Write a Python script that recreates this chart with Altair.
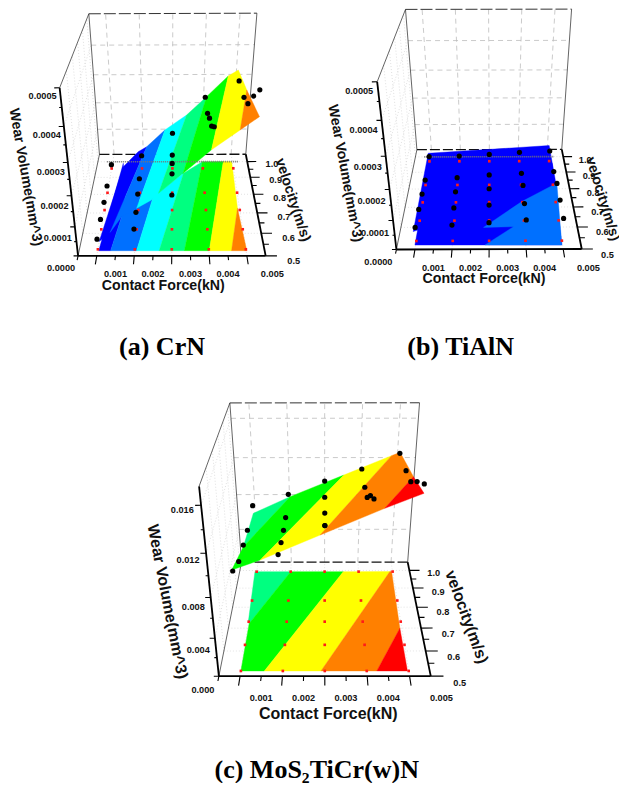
import numpy as np
import pandas as pd
import altair as alt

# ---------- values ----------
# Forces are in units of 1e-5 kN, velocities in 1e-3 m/s, wear in WEAR_UNIT mm^3.
FORCE_COLUMNS = [50, 150, 250, 350, 450]

A_VELOCITY_ROWS = [528, 619, 715, 809, 956]
B_VELOCITY_ROWS = [537, 632, 726, 823, 970]
C_VELOCITY_ROWS = [520, 626, 730, 834, 993]

# wear[column][row]
A_WEAR = [[36,36,29,26,15],[71,61,59,53,50],[183,191,166,139,135],[384,338,312,280,263],[481,423,356,331,318]]
B_WEAR = [[48,41,31,19,19],[56,46,39,28,21],[64,56,50,38,27],[73,61,62,44,35],[78,73,69,50,40]]
C_WEAR = [[1001,871,828,785,771],[1148,1051,974,916,894],[1398,1208,1141,1121,1036],[1617,1473,1288,1219,1162],[1736,1592,1432,1378,1322]]

BLUE, AZURE, CYAN, SPRING, GREEN, YELLOW, ORANGE, RED = "#0000ff", "#0070ff", "#00ffff", "#00ff80", "#00ff00", "#ffff00", "#ff8000", "#ff0000"

A_FLOOR = [
 (BLUE,[[53,522],[85,522],[109,733],[86,990]]),
 (AZURE,[[85,522],[155,522],[192,787],[109,733]]),
 (CYAN,[[155,522],[216,522],[286,925],[192,787]]),
 (SPRING,[[216,522],[284,522],[350,1000],[286,925]]),
 (GREEN,[[284,522],[351,522],[420,1000],[350,1000]]),
 (YELLOW,[[351,522],[411,522],[444,724],[448,1000],[420,1000]]),
 (ORANGE,[[411,522],[452,522],[444,724]]),
]
A_SURFACE = [
 (BLUE,[[55,530,26],[99,850,72],[139,960,63],[167,960,82],[86,530,58]]),
 (AZURE,[[167,960,82],[226,960,145],[159,530,139],[119,530,111],[86,530,58]]),
 (CYAN,[[226,960,145],[294,960,199],[216,530,187],[198,530,166],[159,530,139]]),
 (SPRING,[[294,960,199],[354,960,263],[278,530,249],[216,530,187]]),
 (GREEN,[[354,960,263],[417,960,333],[346,530,318],[278,530,249]]),
 (YELLOW,[[417,960,333],[446,960,352],[455,800,358],[412,530,374],[346,530,318]]),
 (ORANGE,[[455,800,358],[455,530,410],[412,530,374]]),
]
B_FLOOR = [(BLUE,[[48,519],[448,518],[459,955],[51,957]])]
B_SURFACE = [(BLUE,[[45,530,39],[49,960,38],[446,960,67],[456,800,21]])]
B_FLOOR_TOP = [(AZURE,[[239,519],[448,518],[463,831],[440,812],[348,729],[234,599],[319,602]])]
C_FLOOR = [
 (SPRING,[[45,993],[150,993],[52,722],[49,727]]),
 (GREEN,[[52,722],[150,993],[305,993],[106,520],[50,520]]),
 (YELLOW,[[305,993],[442,993],[241,520],[106,520]]),
 (ORANGE,[[442,993],[447,993],[445,699],[374,520],[241,520]]),
 (RED,[[445,699],[447,520],[374,520]]),
]
C_SURFACE = [
 (SPRING,[[51,990,691],[155,990,874],[41,800,676]]),
 (GREEN,[[41,800,676],[155,990,874],[302,990,1104],[111,520,1100],[48,520,1010]]),
 (YELLOW,[[302,990,1104],[428,990,1303],[240,520,1318],[111,520,1100]]),
 (ORANGE,[[428,990,1303],[450,990,1336],[458,750,1447],[373,520,1541],[240,520,1318]]),
 (RED,[[458,750,1447],[451,520,1662],[373,520,1541]]),
]

FORCE_LABELS = ["0.001", "0.002", "0.003", "0.004", "0.005"]
VELOCITY_LABELS = ["0.5", "0.6", "0.7", "0.8", "0.9", "1.0"]
AB_WEAR_LABELS = ["0.0000", "0.0001", "0.0002", "0.0003", "0.0004", "0.0005"]
C_WEAR_LABELS = ["0.000", "0.004", "0.008", "0.012", "0.016"]
CAPTIONS = ["(a) CrN", "(b) TiAlN", "(c) MoS\u2082TiCr(w)N"]

# ---------- layout: the view of each 3D box ----------
UNIT = [(0,0,0),(1,0,0),(0,1,0),(1,1,0),(0,0,1),(0,1,1),(1,1,1)]
V_LO, V_HI, F_HI = 0.5, 1.05, 0.005


def camera(pts):
    rows = []
    for (X, Y, Z), (u, v) in zip(UNIT, pts):
        rows.append([X,Y,Z,1,0,0,0,0,-u*X,-u*Y,-u*Z,-u])
        rows.append([0,0,0,0,X,Y,Z,1,-v*X,-v*Y,-v*Z,-v])
    return np.linalg.svd(np.array(rows, float))[2][-1].reshape(3, 4)


PANELS = [
 dict(name="a", corners=[(78,255.3),(266,256),(99.3,155),(245.7,154),(59.3,88.3),(89.3,13.3),(256.7,13.3)],
      wmax=.0005, unit=1e-6, rows=A_VELOCITY_ROWS, wear=A_WEAR, floor=A_FLOOR, surface=A_SURFACE, top=[],
      wticks=[0,.0001,.0002,.0003,.0004,.0005], wlabels=AB_WEAR_LABELS, wgrid=[.0001,.0002,.0003,.0004],
      wminor=[.00005,.00015,.00025,.00035,.00045],
      woff=((-17,12.3),(-17,7.7)), foff=17.7, f5dx=6.7, voff=((28,5),(24.7,2.7)), band=True,
      tsize=14.2, title_x=(163.3,286), title_w=(25.5,177.3,80), title_v=(292.7,200,72)),
 dict(name="b", corners=[(396,249.3),(581.7,249.3),(417.3,150),(561.7,149),(377.7,81.7),(405,9.3),(571.7,9.3)],
      wmax=.0005, unit=1e-6, rows=B_VELOCITY_ROWS, wear=B_WEAR, floor=B_FLOOR, surface=B_SURFACE, top=B_FLOOR_TOP,
      wticks=[0,.0001,.0002,.0003,.0004,.0005], wlabels=AB_WEAR_LABELS, wgrid=[.0001,.0002,.0003,.0004],
      wminor=[.00005,.00015,.00025,.00035,.00045],
      woff=((-18,13),(-18,9)), foff=19, f5dx=6.7, voff=((25.7,5.7),(22,3)), band=True,
      tsize=14.2, title_x=(484,279), title_w=(345,173.3,79.5), title_v=(602.5,199,73)),
 dict(name="c", corners=[(219.3,676),(431,676),(241,562.3),(407.7,562.3),(198.3,486.7),(230.7,402.7),(419.3,402.7)],
      wmax=.0175, unit=1e-5, rows=C_VELOCITY_ROWS, wear=C_WEAR, floor=C_FLOOR, surface=C_SURFACE, top=[],
      wticks=[0,.004,.008,.012,.016], wlabels=C_WEAR_LABELS, wgrid=[.004,.008,.012,.016],
      wminor=[.002,.006,.010,.014],
      woff=((-16,14),(-19,4)), foff=21.7, f5dx=10.7, voff=((29,7.3),(24.3,2.7)), band=False,
      tsize=16, title_x=(328.3,714), title_w=(167.3,601.7,79), title_v=(466.5,617,70)),
]
CAPTION_POS = [(162,347), (460.7,347), (316.7,770)]
F_GRID = [.0005,.0015,.0025,.0035,.0045]
V_GRID = [.6,.7,.8,.9,1.0]

segs = {k: [] for k in ["wall","floor","back","thin","topdash","backdash","band","axis","tick"]}
polys, reds, blacks, texts = [], [], [], []

for p in PANELS:
    P = camera(p["corners"])
    wm = p["wmax"]

    def pr(F, V, W=0.0):
        h = P @ np.array([F/F_HI, (V-V_LO)/(V_HI-V_LO), W/wm, 1.0])
        return float(h[0]/h[2]), float(h[1]/h[2])

    def seg(kind, a, b):
        xa, ya = pr(*a); xb, yb = pr(*b)
        segs[kind].append(dict(x=xa, y=ya, x2=xb, y2=yb))

    # walls and floor grids
    for W in p["wgrid"]:
        seg("wall", (0,V_LO,W), (0,V_HI,W))
        seg("back", (0,V_HI,W), (F_HI,V_HI,W))
    for V in V_GRID:
        seg("wall", (0,V,0), (0,V,wm))
        seg("floor", (0,V,0), (F_HI,V,0))
    for F in F_GRID:
        seg("floor", (F,V_LO,0), (F,V_HI,0))
        seg("back", (F,V_HI,0), (F,V_HI,wm))
    # box edges
    seg("thin", (0,V_LO,0), (0,V_HI,0))
    seg("thin", (0,V_LO,wm), (0,V_HI,wm))
    seg("thin", (0,V_HI,0), (0,V_HI,wm))
    seg("thin", (F_HI,V_HI,0), (F_HI,V_HI,wm))
    seg("topdash", (0,V_HI,wm), (F_HI,V_HI,wm))
    seg("backdash", (0,V_HI,0), (F_HI,V_HI,0))
    if p["band"]:
        seg("band", (.0003,1.0,0), (.0047,1.0,0))
    # axes
    seg("axis", (0,V_LO,0), (F_HI,V_LO,0))
    seg("axis", (F_HI,V_LO,0), (F_HI,V_HI,0))
    seg("axis", (0,V_LO,0), (0,V_LO,wm))
    for i in range(1, 10):
        F = i*.0005
        seg("tick", (F,V_LO,0), (F,V_LO-(.035 if i % 2 else .018),0))
    seg("tick", (0,V_LO,0), (0,V_LO-.018,0))
    for i in range(0, 11):
        V = V_LO + i*.05
        seg("tick", (F_HI,V,0), (F_HI+(.0003 if i % 2 == 0 else .00015),V,0))
    for W in p["wticks"]:
        seg("tick", (0,V_LO,W), (-.00012,V_LO,W))
    for W in p["wminor"]:
        seg("tick", (0,V_LO,W), (-.00006,V_LO,W))

    # coloured bands
    for c, vs in p["floor"]:
        polys.append((c, [pr(f*1e-5, v*1e-3) for f, v in vs]))
    for c, vs in p["surface"]:
        polys.append((c, [pr(f*1e-5, v*1e-3, w*p["unit"]) for f, v, w in vs]))
    for c, vs in p["top"]:
        polys.append((c, [pr(f*1e-5, v*1e-3) for f, v in vs]))

    # measured points and their floor shadows
    for i, f in enumerate(FORCE_COLUMNS):
        for j, v in enumerate(p["rows"]):
            x, y = pr(f*1e-5, v*1e-3)
            reds.append(dict(x=x, y=y))
            x, y = pr(f*1e-5, v*1e-3, p["wear"][i][j]*p["unit"])
            blacks.append(dict(x=x, y=y))

    # tick labels
    (d0x, d0y), (d1x, d1y) = p["woff"]
    for W, lab in zip(p["wticks"], p["wlabels"]):
        r = W/wm
        x, y = pr(0, V_LO, W)
        texts.append(dict(x=x+d0x+(d1x-d0x)*r, y=y+d0y+(d1y-d0y)*r, t=lab, a=0, s=9.2))
    for k, lab in enumerate(FORCE_LABELS):
        x, y = pr((k+1)*.001, V_LO)
        texts.append(dict(x=x+(p["f5dx"] if k == 4 else 0), y=y+p["foff"], t=lab, a=0, s=9.2))
    (d0x, d0y), (d1x, d1y) = p["voff"]
    for k, lab in enumerate(VELOCITY_LABELS):
        r = k/5
        x, y = pr(F_HI, V_LO+k*.1)
        texts.append(dict(x=x+d0x+(d1x-d0x)*r, y=y+d0y+(d1y-d0y)*r, t=lab, a=0, s=9.2))
    # axis titles
    texts.append(dict(x=p["title_x"][0], y=p["title_x"][1], t="Contact Force(kN)", a=0, s=p["tsize"]))
    texts.append(dict(x=p["title_w"][0], y=p["title_w"][1], t="Wear Volume(mm^3)", a=p["title_w"][2], s=p["tsize"]))
    texts.append(dict(x=p["title_v"][0], y=p["title_v"][1], t="velocity(m/s)", a=p["title_v"][2], s=p["tsize"]))

# ---------- chart ----------
X = alt.X("x:Q", scale=alt.Scale(domain=[8, 619], range=[0, 611]), axis=None)
Y = alt.Y("y:Q", scale=alt.Scale(domain=[8, 783], range=[0, 775]), axis=None)


def rule(kind, **mark):
    return alt.Chart(pd.DataFrame(segs[kind])).mark_rule(**mark).encode(x=X, y=Y, x2="x2:Q", y2="y2:Q")


features = [
    {"type": "Feature", "properties": {"c": c},
     "geometry": {"type": "Polygon", "coordinates": [[list(q) for q in ring] + [list(ring[0])]]}}
    for c, ring in polys
]
bands = (
    alt.Chart(alt.Data(values=features))
    .mark_geoshape(strokeWidth=0.4)
    .encode(fill=alt.Fill("properties.c:N", scale=None, legend=None),
            stroke=alt.Stroke("properties.c:N", scale=None, legend=None))
    .project(type="identity", scale=1, translate=[-8, -8])
)

layers = [
    rule("wall", color="#d8d8d8", strokeWidth=0.8, strokeDash=[1, 2]),
    rule("floor", color="#dcdcdc", strokeWidth=0.8, strokeDash=[1, 2]),
    rule("back", color="#bdbdbd", strokeWidth=0.8, strokeDash=[5, 4]),
    rule("thin", color="#222222", strokeWidth=0.7),
    rule("topdash", color="#333333", strokeWidth=1, strokeDash=[12, 3]),
    rule("backdash", color="#111111", strokeWidth=1.3, strokeDash=[10, 3]),
    bands,
    rule("band", color="#777777", strokeWidth=1.6, strokeDash=[1, 1]),
    rule("axis", color="#000000", strokeWidth=1.8),
    rule("tick", color="#000000", strokeWidth=1.1),
    alt.Chart(pd.DataFrame(reds)).mark_point(shape="square", filled=True, color="#ff1a1a", size=7, opacity=1).encode(x=X, y=Y),
    alt.Chart(pd.DataFrame(blacks)).mark_point(shape="circle", filled=True, color="#000000", size=27, opacity=1).encode(x=X, y=Y),
    alt.Chart(pd.DataFrame(texts)).mark_text(font="Liberation Sans", fontWeight="bold", color="#111111", align="center", baseline="middle")
      .encode(x=X, y=Y, text="t:N", angle=alt.Angle("a:Q", scale=None), size=alt.Size("s:Q", scale=None)),
    alt.Chart(pd.DataFrame({"x": [c[0] for c in CAPTION_POS], "y": [c[1] for c in CAPTION_POS], "t": CAPTIONS}))
      .mark_text(font="Liberation Serif", fontWeight="bold", color="#000000", fontSize=26, align="center", baseline="middle")
      .encode(x=X, y=Y, text="t:N"),
]

chart = (
    alt.layer(*layers)
    .properties(width=611, height=775, padding=0, autosize=alt.AutoSizeParams(type="none"))
    .configure_view(stroke=None)
)
chart.save("out.html", embed_options={"renderer": "svg", "actions": False})
